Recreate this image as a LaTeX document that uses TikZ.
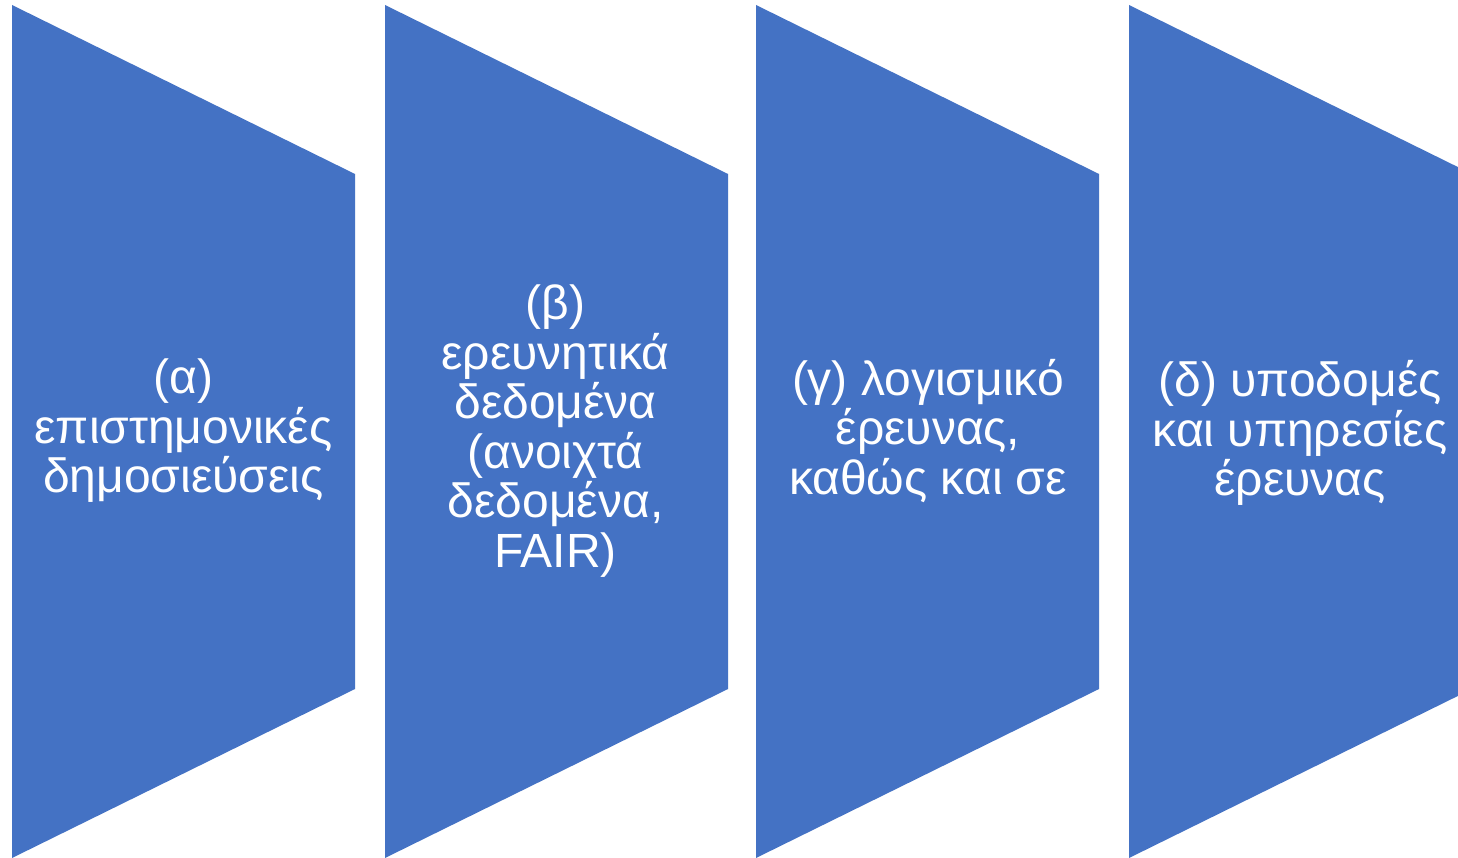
\documentclass[tikz,border=0pt]{standalone}
\usepackage{fontspec}
\setmainfont{Liberation Sans}
\definecolor{panel}{HTML}{4472C4}
\tikzset{
  panelshape/.style={fill=panel, draw=none},
  label/.style={text=white, align=center, inner sep=0pt, font=\fontsize{48}{49.5}\selectfont}
}
\newcommand{\panelat}[1]{%
  \fill[panelshape] (#1,5) -- (#1+343,174) -- (#1+343,689) -- (#1,858) -- cycle;}
\begin{document}
\begin{tikzpicture}[x=1pt,y=-1pt]
\useasboundingbox (0,0) rectangle (1458,858);
\fill[white] (0,0) rectangle (1458,858);
\clip (0,0) rectangle (1458,858);
\panelat{12}
\panelat{385}
\panelat{756}
\panelat{1129}
\node[label] (a) at (183.5,431) {(α)\\επιστημονικές\\δημοσιεύσεις};
\node[label] (b) at (555.5,431) {(β)\\ερευνητικά\\δεδομένα\\(ανοιχτά\\δεδομένα,\\FAIR)};
\node[label] (c) at (928,431) {(γ) λογισμικό\\έρευνας,\\καθώς και σε};
\node[label] (d) at (1300,433) {(δ) υποδομές\\και υπηρεσίες\\έρευνας};
\end{tikzpicture}
\end{document}
